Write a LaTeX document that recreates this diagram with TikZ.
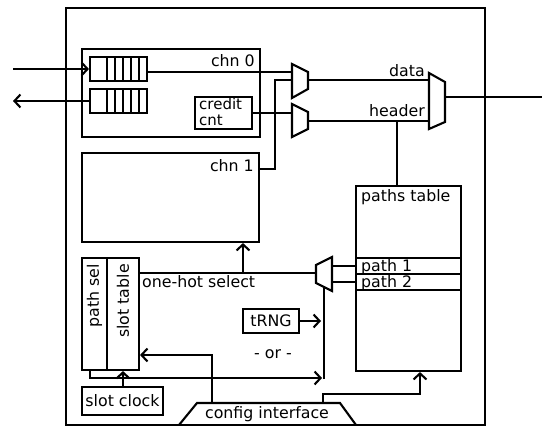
\documentclass[tikz,border=0pt]{standalone}
\usepackage{fontspec}
\setmainfont{DejaVu Sans}
\usetikzlibrary{arrows.meta,fit,calc}
\begin{document}
\begin{tikzpicture}[x=1pt,y=-1pt,
  lw/.style={line width=2.1pt},
  box/.style={draw,lw,inner sep=0pt,fit={#1}},
  lab/.style={inner sep=0pt,font=\fontsize{15.8}{16}\selectfont},
  arr/.style={lw,-{Straight Barb[length=6pt,width=13pt]}},
  wire/.style={lw}]
\useasboundingbox (0,0) rectangle (549,427);

% outer block
\node[box={(66,8) (485,425)}] (outer) {};

% channel 0
\node[box={(82,49) (260,137)}] (chn0) {};
\node[lab,anchor=base east] (chn0l) at (255,67) {chn 0};
\node[box={(90,57) (147,81)}] (q1) {};
\foreach \x in {107,115,123,131,139} \draw[lw] (\x,57) -- (\x,81);
\node[box={(90,89) (147,113)}] (q2) {};
\foreach \x in {107,115,123,131,139} \draw[lw] (\x,89) -- (\x,113);
\node[box={(195,97) (252,129)}] (credit) {};
\node[lab,anchor=base west,font=\fontsize{15}{15}\selectfont] (creditl) at (199,110) {credit};
\node[lab,anchor=base west,font=\fontsize{15}{15}\selectfont] (cntl) at (199,125.5) {cnt};

% channel 1
\node[box={(82,153) (259,242)}] (chn1) {};
\node[lab,anchor=base east] (chn1l) at (254,172) {chn 1};

% external ports
\coordinate (inL) at (13,69);
\coordinate (outL) at (13,101);
\coordinate (outR) at (542,97);
\draw[arr] (inL) -- (q1.west);
\draw[arr] (q2.west) -- (outL);

% channel muxes
\draw[lw] (292,64) -- (308,72) -- (308,89) -- (292,98) -- cycle;
\draw[lw] (292,104) -- (308,112) -- (308,129) -- (292,137) -- cycle;
\coordinate (m1a) at (292,72);
\coordinate (m1b) at (292,80);
\coordinate (m1o) at (308,80);
\coordinate (m2a) at (292,113);
\coordinate (m2o) at (308,121);

% output mux
\draw[lw] (429,73) -- (445,82) -- (445,122) -- (429,129) -- cycle;
\coordinate (bma) at (429,80);
\coordinate (bmb) at (429,121);
\coordinate (bmo) at (445,97);

\draw[wire] (q1.east |- m1a) -- (m1a);
\draw[wire] (credit.east |- m2a) -- (m2a);
\draw[wire] (chn1.east |- 0,169) -- (275,169) -- (275,80) -- (m1b);
\draw[wire] (m1o) -- (bma);
\draw[wire] (m2o) -- (bmb);
\draw[wire] (bmo) -- (outR);
\node[lab,anchor=base east] (datal) at (425,77) {data};
\node[lab,anchor=base east] (headl) at (425,117) {header};

% paths table
\node[box={(356,186) (461,371)}] (ptab) {};
\node[lab,anchor=base west] (ptabl) at (361,202) {paths table};
\node[box={(356,258) (461,274)}] (p1) {};
\node[box={(356,274) (461,290)}] (p2) {};
\node[lab,anchor=base west] (p1l) at (361,272) {path 1};
\node[lab,anchor=base west] (p2l) at (361,288) {path 2};
\draw[wire] (397,121) -- (ptab.north -| 397,0);

% path select mux
\draw[lw] (316,265) -- (332,257) -- (332,291) -- (316,283) -- cycle;
\coordinate (smA) at (332,266);
\coordinate (smB) at (332,282);
\coordinate (smO) at (316,273);
\coordinate (smS) at (324,287);
\draw[wire] (p1.west) -- (smA);
\draw[wire] (p2.west) -- (smB);

% path sel / slot table
\node[box={(82,258) (107,370)}] (psel) {};
\node[box={(107,258) (139,370)}] (stab) {};
\node[lab,rotate=90,anchor=east] (psell) at (94.5,264) {path sel};
\node[lab,rotate=90,anchor=east] (stabl) at (123,264) {slot table};
\draw[wire] (smO) -- (stab.east |- smO);
\node[lab,anchor=base west] (ohs) at (142,288) {one-hot select};
\draw[arr] (243,273) -- (chn1.south -| 243,0);

% slot clock
\node[box={(82,387) (163,415)}] (sclk) {};
\node[lab] (sclkl) at (sclk.center) {slot clock};
\draw[arr] (sclk.north -| stab.south) -- (stab.south);

% tRNG
\node[box={(243,309) (299,333)}] (trng) {};
\node[lab] (trngl) at (trng.center) {tRNG};
\draw[wire] (smS) -- (324,379);
\draw[arr] (trng.east) -- (321,321);
\node[lab,anchor=base] (orl) at (273,359) {- or -};
\draw[arr] (psel.south -| 90,0) -- (90,378) -- (322,378);

% config interface
\draw[lw] (179,425) -- (197,403) -- (340,403) -- (356,425);
\node[lab,anchor=base] (cfg) at (267,419) {config interface};
\coordinate (cfgA) at (212,403);
\coordinate (cfgB) at (323,403);
\draw[arr] (cfgA) -- (212,355) -- (stab.east |- 0,355);
\draw[arr] (cfgB) -- (323,394) -- (420,394) -- (ptab.south -| 420,0);
\end{tikzpicture}
\end{document}
